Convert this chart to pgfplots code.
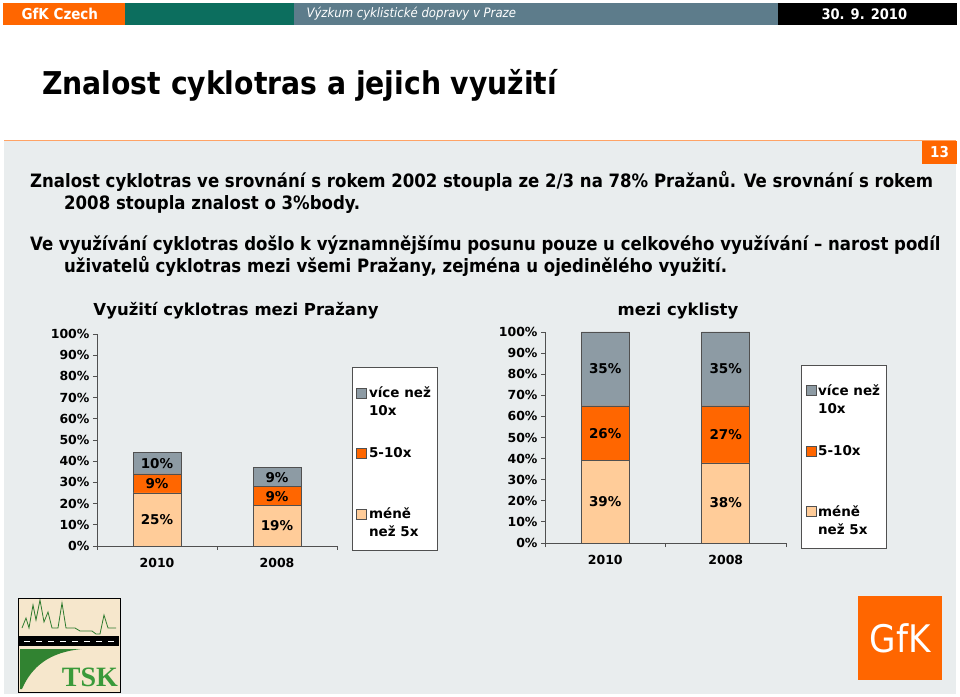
\documentclass[border=0pt]{standalone}
\usepackage{pgfplots}
\pgfplotsset{compat=1.18}
\usepackage{fontspec}
\setmainfont{DejaVu Sans}
\newfontfamily\condfont{DejaVu Sans Condensed}
\newfontfamily\serifb{Liberation Serif}

\definecolor{gfkorange}{HTML}{FF6600}
\definecolor{peach}{HTML}{FFCC99}
\definecolor{slategray}{HTML}{8D9BA4}
\definecolor{slidegray}{HTML}{E9EDEE}
\definecolor{hdrteal}{HTML}{0C6E5E}
\definecolor{hdrblue}{HTML}{5D7C8B}
\definecolor{axisgray}{HTML}{505050}
\definecolor{tskgreen}{HTML}{3A9A3A}
\definecolor{tskbeige}{HTML}{F6E7CC}

\newcommand{\fs}[2]{\fontsize{#1}{#2}\selectfont}
% legend entries: struts above the baseline fix the spacing of the legend rows
\newcommand{\entA}{\begin{tabular}[b]{@{}l@{}}\rule{0pt}{17pt}více než\\10x\end{tabular}}
\newcommand{\entB}{\rule{0pt}{37pt}5-10x}
\newcommand{\entC}{\begin{tabular}[b]{@{}l@{}}\rule{0pt}{55pt}méně\\než 5x\end{tabular}}

\pgfplotsset{
  cykl/.style={
    ybar stacked,
    bar width=48pt,
    scale only axis,
    width=240pt, height=212pt,
    xmin=-0.5, xmax=1.5,
    ymin=0, ymax=100,
    axis x line*=bottom,
    axis y line*=left,
    axis line style={draw=axisgray, line width=0.9pt},
    tick align=outside,
    major tick length=4pt,
    tick style={draw=axisgray, line width=0.9pt},
    xtick={-0.5,0.5,1.5},
    xticklabels={},
    extra x ticks={0,1},
    extra x tick labels={2010,2008},
    extra x tick style={major tick length=0pt, grid=none},
    ytick={0,10,...,100},
    yticklabel={\pgfmathprintnumber{\tick}\%},
    /pgf/number format/assume math mode=true,
    tick label style={font=\bfseries\fs{12.5}{15}},
    xticklabel style={yshift=-9pt},
    point meta=explicit,
    nodes near coords={\pgfmathprintnumber{\pgfplotspointmeta}\%},
    every node near coord/.append style={font=\bfseries\fs{13.5}{15}, text=black, anchor=center},
    legend style={at={(1.0625,0.845)}, anchor=north west, draw=axisgray,
      line width=0.9pt, fill=white, inner xsep=4pt, inner ysep=11pt,
      row sep=0pt, font=\bfseries\fs{13.5}{18}, cells={anchor=base west}},
    reverse legend,
    legend image code/.code={\draw[#1,draw=axisgray,line width=0.6pt] (0pt,-0.5pt) rectangle (10pt,9.5pt);},
  },
  legtwo/.style={legend image code/.code={\draw[##1,draw=axisgray,line width=0.6pt] (0pt,17.5pt) rectangle (10pt,27.5pt);}},
  segment/.style={fill=#1, draw=axisgray, line width=0.6pt},
}

\begin{document}
\begin{tikzpicture}
% slide background and decorations (image px = pt, y upwards)
\begin{scope}[x=1pt,y=1pt]
  \fill[white] (0,0) rectangle (960,696);
  % header bar
  \fill[gfkorange] (3,671) rectangle (125,693);
  \fill[hdrteal] (125,671) rectangle (294,693);
  \fill[hdrblue] (294,671) rectangle (778,693);
  \fill[black] (778,671) rectangle (957,693);
  \node[anchor=west, text=white, font=\condfont\bfseries\fs{15}{18}] at (18,682) {GfK Czech};
  \node[anchor=west, text=white, font=\condfont\itshape\fs{13}{16}] at (303,682) {Výzkum cyklistické dopravy v Praze};
  \node[anchor=west, text=white, font=\condfont\bfseries\fs{14.5}{18}] at (818,682) {30. 9. 2010};
  % title
  \node[anchor=base west, inner sep=0pt, font=\condfont\bfseries\fs{31.4}{38}] at (42,601) {Znalost cyklotras a jejich využití};
  % grey body
  \fill[slidegray] (4,2) rectangle (956,555);
  \draw[color=gfkorange!60, line width=1pt] (4,555) -- (956,555);
  \fill[gfkorange] (922,532) rectangle (957,555);
  \node[text=white, font=\condfont\bfseries\fs{15}{18}] at (939.5,543.5) {13};
  % text
  \begin{scope}[every node/.style={anchor=base west, inner sep=0pt, font=\condfont\bfseries\fs{18.4}{22}}]
    \node at (30,508) {Znalost cyklotras ve srovnání s rokem 2002 stoupla ze 2/3 na 78\% Pražanů. Ve srovnání s rokem};
    \node at (64,486) {2008 stoupla znalost o 3\%body.};
    \node at (30,445) {Ve využívání cyklotras došlo k významnějšímu posunu pouze u celkového využívání – narost podíl};
    \node at (64,423) {uživatelů cyklotras mezi všemi Pražany, zejména u ojedinělého využití.};
  \end{scope}
  % chart titles
  \node[font=\bfseries\fs{16.5}{20}] at (236,385) {Využití cyklotras mezi Pražany};
  \node[font=\bfseries\fs{16.5}{20}] at (678,385) {mezi cyklisty};
  % TSK logo
  \fill[tskbeige] (18,4) rectangle (120,98);
  \fill[black] (19,50) rectangle (119,60);
  \foreach \dx in {24,36,...,112} \draw[white, line width=1pt] (\dx,55) -- (\dx+6,55);
  \fill[tskgreen!85!black] (20,47) -- (82,47) .. controls (50,44) and (32,30) .. (22,7) -- (20,7) -- cycle;
  \draw[tskgreen!80!black, line width=0.8pt] (22,68) -- (26,78) -- (29,68) -- (33,91) -- (36,76) -- (40,96) -- (44,74)
    -- (48,84) -- (52,68) -- (58,68) -- (62,93) -- (66,68) -- (75,68) -- (80,65) -- (92,65) -- (96,62)
    -- (100,62) -- (104,81) -- (108,68) -- (116,68);
  \node[anchor=base, text=tskgreen, font=\serifb\bfseries\fs{28}{30}] at (90,10) {TSK};
  \draw[black, line width=1pt] (18,4) rectangle (120,98);
  % GfK logo
  \fill[gfkorange] (858,16) rectangle (942,100);
  \node[text=white, font=\condfont\fs{38}{42}] at (900,58) {GfK};
\end{scope}

% left chart
\begin{axis}[cykl, at={(97pt,150pt)}, anchor=south west]
  \addplot[segment=peach, legtwo] coordinates {(0,25) [25] (1,19) [19]};
  \addplot[segment=gfkorange] coordinates {(0,9) [9] (1,9) [9]};
  \addplot[segment=slategray, legtwo] coordinates {(0,10) [10] (1,9) [9]};
  \addlegendentry{\entC}
  \addlegendentry{\entB}
  \addlegendentry{\entA}
\end{axis}

% right chart
\begin{axis}[cykl, at={(545pt,153pt)}, anchor=south west, height=211pt, width=241pt]
  \addplot[segment=peach, legtwo] coordinates {(0,39) [39] (1,38) [38]};
  \addplot[segment=gfkorange] coordinates {(0,26) [26] (1,27) [27]};
  \addplot[segment=slategray, legtwo] coordinates {(0,35) [35] (1,35) [35]};
  \addlegendentry{\entC}
  \addlegendentry{\entB}
  \addlegendentry{\entA}
\end{axis}

\pgfresetboundingbox
\useasboundingbox (0,0) rectangle (960pt,696pt);
\end{tikzpicture}
\end{document}
